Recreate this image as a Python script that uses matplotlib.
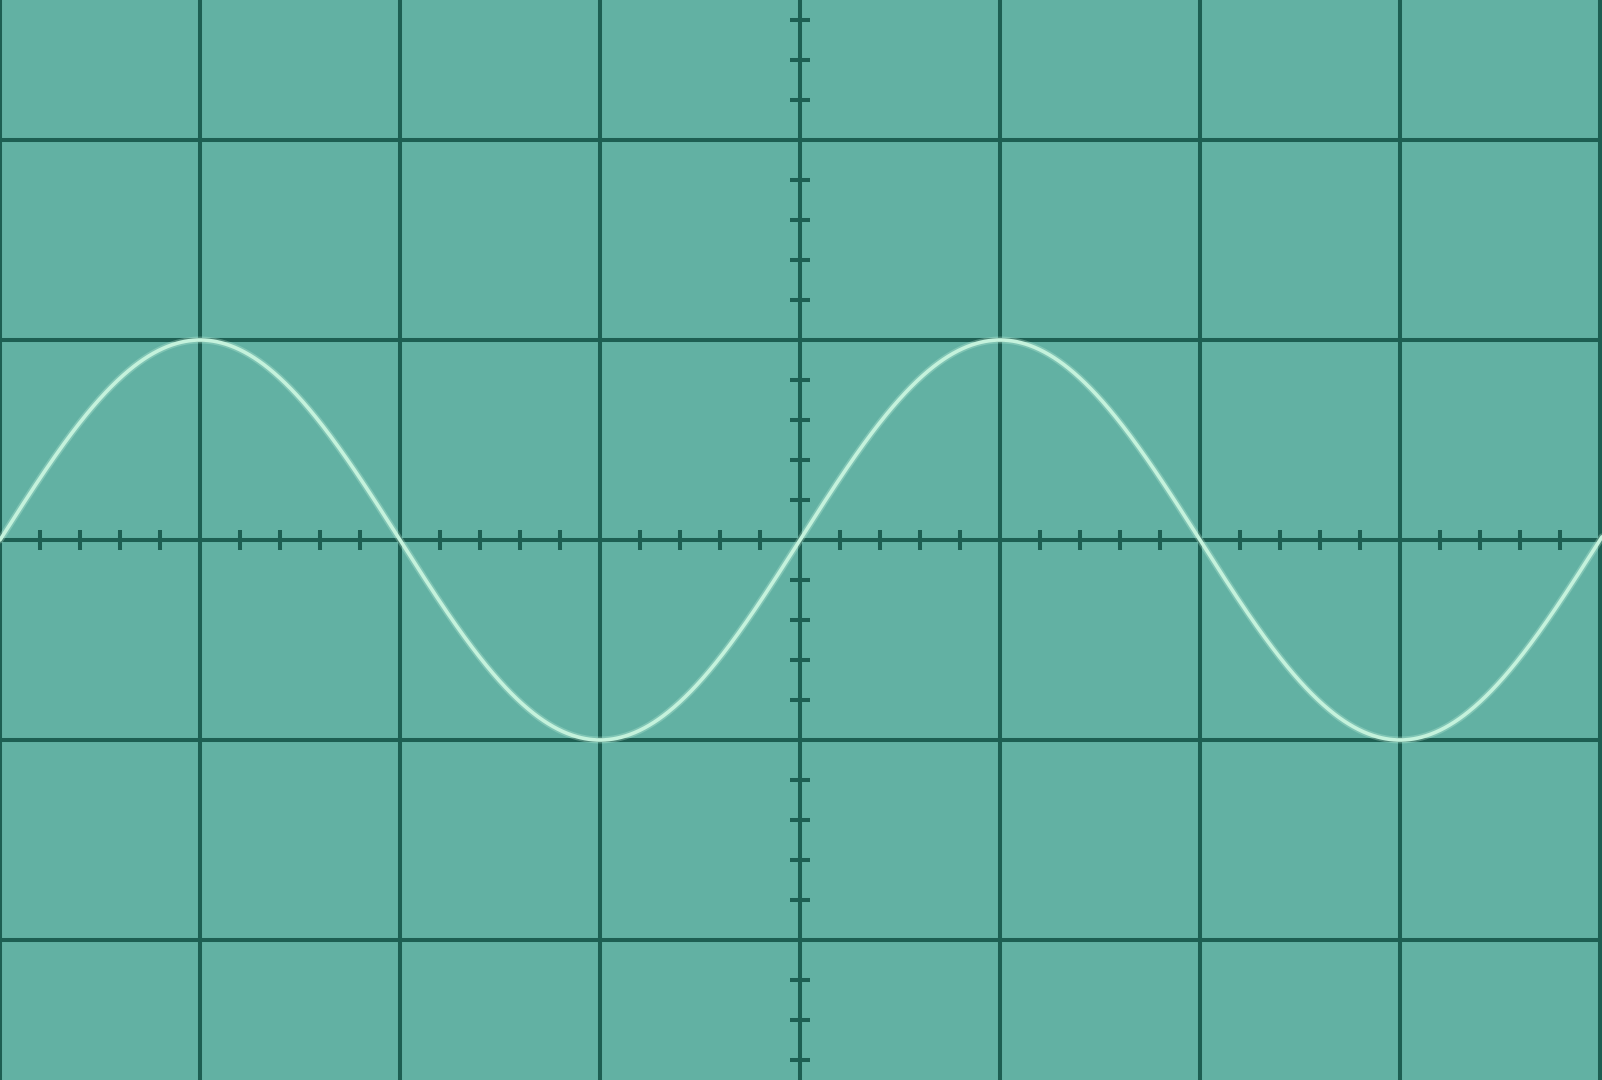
import numpy as np
import matplotlib
matplotlib.use("Agg")
import matplotlib.pyplot as plt

# screen colours
bg_color = "#62b1a3"
grid_color = "#1d5e52"
trace_color = "#c4f2dc"

# screen layout in divisions
x_divs = [-4, -3, -2, -1, 0, 1, 2, 3, 4]
y_divs = [-2, -1, 0, 1, 2]
minor_step = 0.2

# signal: amplitude and period in divisions, phase in radians
amplitude = 1.0
period = 4.0
phase = 0.0

fig = plt.figure(figsize=(16.02, 10.80), dpi=100, facecolor=bg_color)
ax = fig.add_axes([0, 0, 1, 1])
ax.set_facecolor(bg_color)
ax.set_xlim(-4.0, 4.01)
ax.set_ylim(-2.7, 2.7)
ax.axis("off")

# grid
for x in x_divs:
    ax.axvline(x, color=grid_color, lw=2.9, zorder=1)
for y in y_divs:
    ax.axhline(y, color=grid_color, lw=2.9, zorder=1)

# small ticks on the centre axes
tx = np.arange(-4, 4.001, minor_step)
ty = np.arange(-2.6, 2.601, minor_step)
tx = tx[np.abs(tx - np.round(tx)) > 1e-6]
ty = ty[np.abs(ty - np.round(ty)) > 1e-6]
ax.vlines(tx, -0.05, 0.05, color=grid_color, lw=2.9, zorder=1)
ax.hlines(ty, -0.05, 0.05, color=grid_color, lw=2.9, zorder=1)

# trace with a soft glow
t = np.linspace(-4.0, 4.01, 2000)
v = amplitude * np.sin(2 * np.pi * t / period + phase)
ax.plot(t, v, color=trace_color, lw=5, alpha=0.3, zorder=2, solid_capstyle="round")
ax.plot(t, v, color=trace_color, lw=2.6, zorder=3, solid_capstyle="round")

fig.savefig("out.png", dpi=100, facecolor=bg_color)
plt.close(fig)
